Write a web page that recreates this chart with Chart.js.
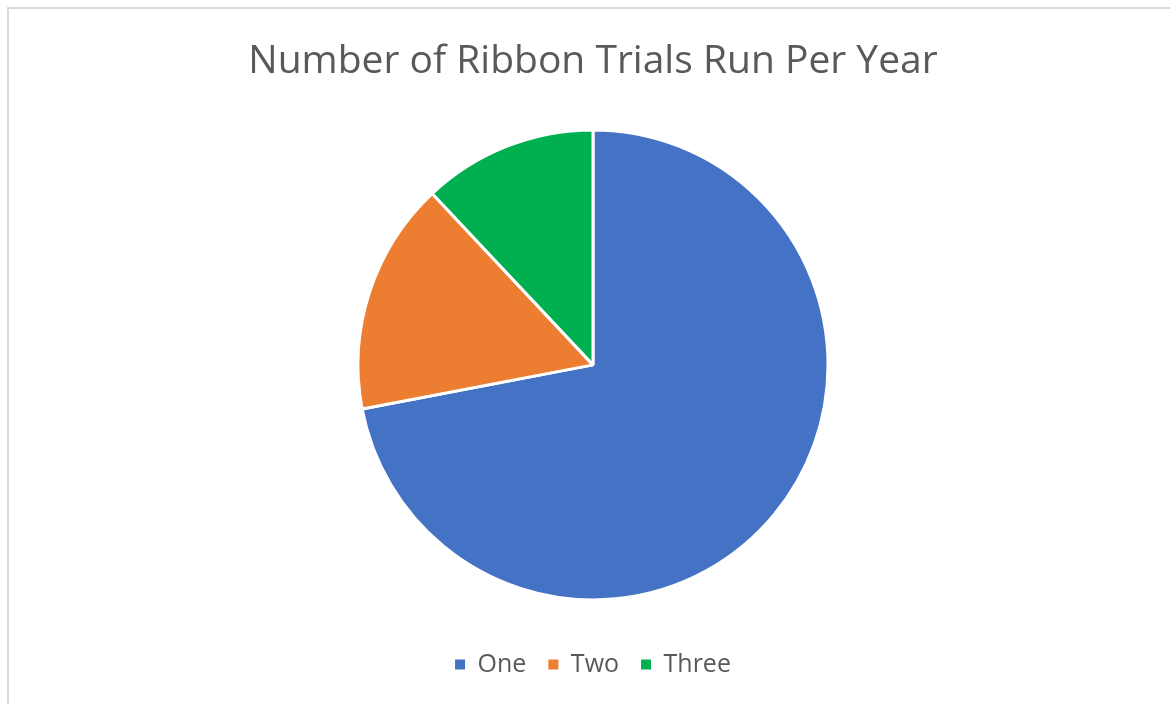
<!DOCTYPE html>
<html>
<head>
<meta charset="utf-8">
<script src="https://cdn.jsdelivr.net/npm/chart.js@4"></script>
<style>
  html, body { margin: 0; padding: 0; background: #fff; }
  #frame {
    position: absolute; left: 7px; top: 7px; width: 1200px; height: 720px;
    border-left: 2px solid #d9d9d9; border-top: 2px solid #d9d9d9;
  }
  #wrap { position: absolute; left: 0; top: 0; width: 1170px; height: 704px; }
</style>
</head>
<body>
<div id="frame"></div>
<div id="wrap"><canvas id="pie"></canvas></div>
<script>
const chartTitle = 'Number of Ribbon Trials Run Per Year';
const categories = ['One', 'Two', 'Three'];
const trialCounts = [18, 4, 3];
const sliceColors = ['#4472C4', '#ED7D31', '#00B050'];

const ctx = document.getElementById('pie').getContext('2d');

new Chart(ctx, {
    type: 'pie',
    data: {
        labels: categories,
        datasets: [{
            data: trialCounts,
            backgroundColor: sliceColors,
            borderColor: '#ffffff',
            borderWidth: 3,
            radius: 235
        }]
    },
    options: {
        responsive: true,
        maintainAspectRatio: false,
        animation: false,
        layout: { padding: { left: 16, bottom: 17 } },
        plugins: {
            title: {
                display: true,
                text: chartTitle,
                color: '#595959',
                font: { family: 'Open Sans', size: 39, weight: 'normal' },
                padding: { top: 38, bottom: 15 }
            },
            legend: {
                position: 'bottom',
                labels: {
                    color: '#595959',
                    font: { family: 'Open Sans', size: 25 },
                    boxWidth: 10,
                    boxHeight: 10,
                    padding: 22,
                    generateLabels: chart => {
                        const items = Chart.overrides.pie.plugins.legend.labels.generateLabels(chart);
                        items.forEach(it => { it.lineWidth = 0; });
                        return items;
                    }
                }
            },
            tooltip: { enabled: false }
        }
    }
});
</script>
</body>
</html>
